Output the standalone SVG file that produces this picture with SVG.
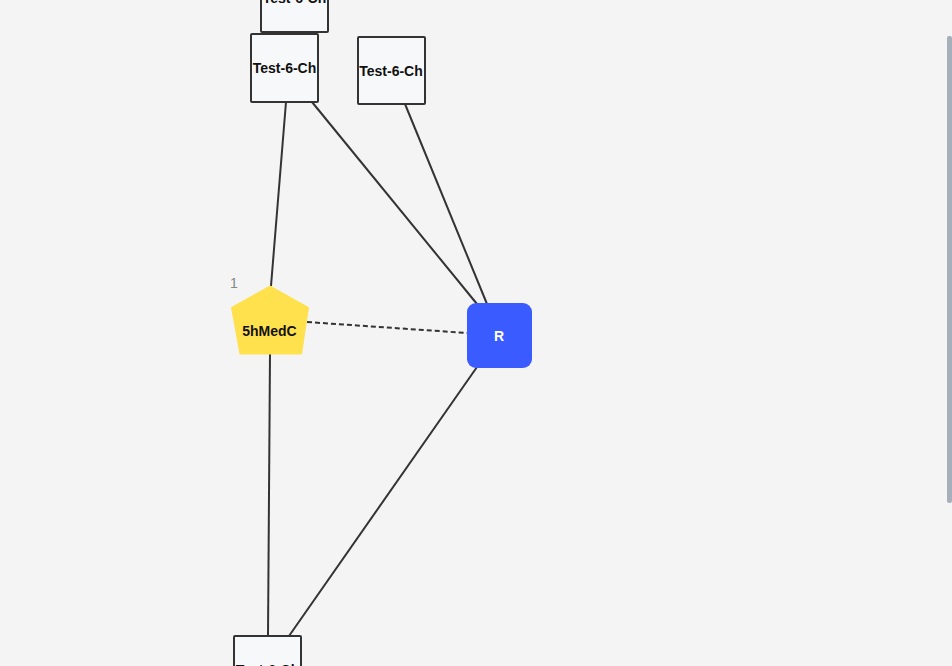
<svg xmlns="http://www.w3.org/2000/svg" width="952" height="666" viewBox="0 0 952 666">
<style>
.box{fill:#f7f8fa;stroke:#333;stroke-width:2}
.lbl{font-family:"Liberation Sans",Arial,sans-serif;font-weight:bold;font-size:14px;fill:#111;text-anchor:middle}
.edge{stroke:#333;stroke-width:2;fill:none}
</style>
<rect width="952" height="666" fill="#f4f4f4"/>
<g id="connectors">
<line class="edge" x1="291" y1="32" x2="291" y2="34"/>
<line class="edge" x1="286" y1="102" x2="271" y2="286"/>
<line class="edge" x1="312" y1="102" x2="477" y2="304"/>
<line class="edge" x1="405" y1="104" x2="487" y2="304"/>
<line class="edge" x1="307" y1="322" x2="467" y2="333" stroke-dasharray="5,3"/>
<line class="edge" x1="270" y1="354" x2="268" y2="636"/>
<line class="edge" x1="477" y1="367" x2="289" y2="636"/>
</g>
<g id="n-top"><rect class="box" x="261" y="-36" width="67" height="68" rx="1"/><text class="lbl" x="294.5" y="3">Test-6-Ch</text></g>
<g id="n-a"><rect class="box" x="251" y="34" width="67" height="68" rx="1"/><text class="lbl" x="284.5" y="73">Test-6-Ch</text></g>
<g id="n-b"><rect class="box" x="358" y="37" width="67" height="67" rx="1"/><text class="lbl" x="391" y="76">Test-6-Ch</text></g>
<g id="n-5hmedc"><text x="230" y="288" font-family="Liberation Sans,Arial,sans-serif" font-size="14" fill="#888">1</text><polygon points="270,286 308.5,307.5 301.5,354 240,354 231.5,307.5" fill="#ffe14d" stroke="#ffe14d" stroke-width="1" stroke-linejoin="round"/><text class="lbl" x="269.5" y="336">5hMedC</text></g>
<g id="n-r"><rect x="467" y="303" width="65" height="65" rx="9" fill="#3a5bff"/><text class="lbl" x="499" y="341" fill="#fff" style="fill:#fff">R</text></g>
<g id="n-bottom"><rect class="box" x="234" y="636" width="67" height="68" rx="1"/><text class="lbl" x="267.5" y="675">Test-6-Ch</text></g>
<rect x="947" y="36" width="5" height="467" rx="2" fill="#a6b0ba"/>
</svg>
